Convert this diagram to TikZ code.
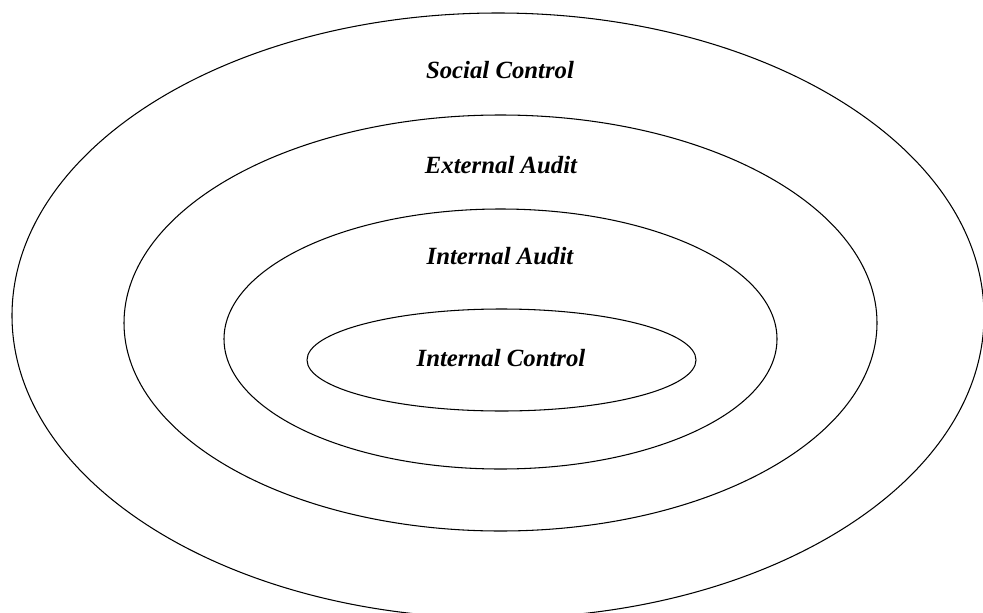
\documentclass[tikz,border=0pt]{standalone}
\usepackage{fontspec}
\setmainfont{Liberation Serif}
\usetikzlibrary{positioning}
\tikzset{
	ring/.style={draw, line width=0.6pt},
	ringlabel/.style={font=\fontsize{14.1}{16}\selectfont\bfseries\itshape, inner sep=0pt},
	baseline}

\begin{document}
\begin{tikzpicture}[x=0.02cm, y=-0.02cm]
		\useasboundingbox (0,0) rectangle (983,612);
		
		% rings, outermost first
		\draw[ring] (498,315.6) ellipse (486 and 302.6);
		\draw[ring] (500.5,323) ellipse (376.5 and 208);
		\draw[ring] (500.5,339) ellipse (276.5 and 130);
		\draw[ring] (501.5,360) ellipse (194.5 and 51);
		
		\node[ringlabel] (social) at (500,70) {Social Control};
		\node[ringlabel] (external) at (501,165.5) {External Audit};
		\node[ringlabel] (internalaudit) at (500,256.5) {Internal Audit};
		\node[ringlabel] (internalcontrol) at (501,358.5) {Internal Control};
	\end{tikzpicture}
\end{document}
